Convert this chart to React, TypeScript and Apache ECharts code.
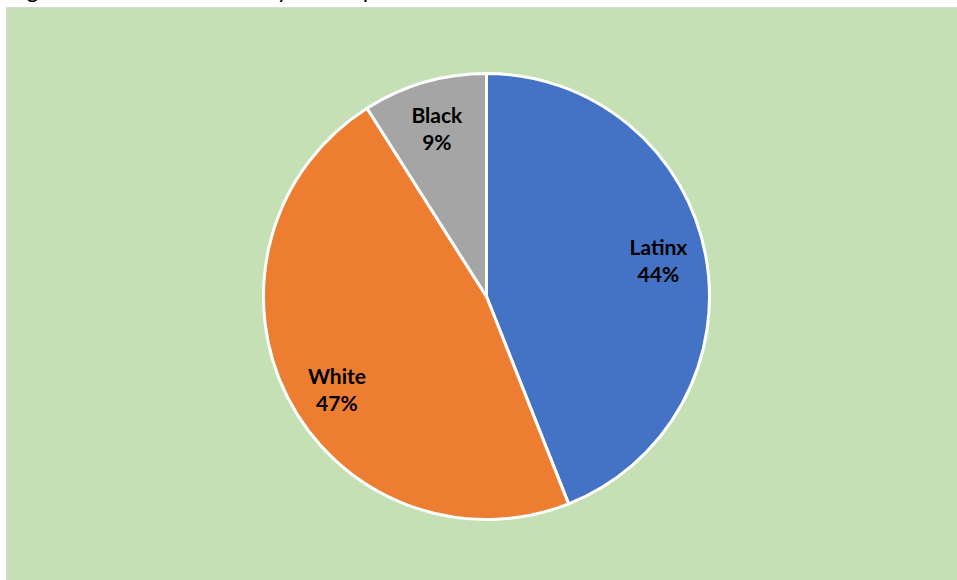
import React, { useEffect, useRef } from "react";
import * as echarts from "echarts";

const categories = ["Latinx", "White", "Black"];
const values = [44, 47, 9];
const colors = ["#4472C4", "#ED7D31", "#A5A5A5"];
const titleText = "Figure 1: Race and Ethnicity of Sample";

export default function App() {
  const ref = useRef<HTMLDivElement>(null);
  useEffect(() => {
    if (!ref.current) return;
    const chart = echarts.init(ref.current, null, { renderer: "svg" });
    const data = categories.map((name, i) => ({
      name,
      value: values[i],
      itemStyle: { color: colors[i] },
    }));
    chart.setOption({
      animation: false,
      backgroundColor: "#ffffff",
      graphic: [
        {
          type: "rect",
          shape: { x: 6.5, y: 7.5, width: 960, height: 600 },
          style: { fill: "#C5E0B4", stroke: "#D9D9D9", lineWidth: 1 },
          z: 0,
        },
        {
          type: "text",
          x: 8,
          y: 0,
          style: {
            text: titleText,
            font: "23px Lato, sans-serif",
            fill: "#000000",
            verticalAlign: "bottom",
          },
          z: 0,
        },
      ],
      series: [
        {
          type: "pie",
          center: [486.5, 296.5],
          radius: [0, 223],
          startAngle: 90,
          clockwise: true,
          silent: true,
          label: { show: false },
          labelLine: { show: false },
          itemStyle: { borderColor: "#ffffff", borderWidth: 3 },
          data,
          z: 2,
        },
        {
          type: "pie",
          center: [486.5, 296.5],
          radius: [128, 222],
          startAngle: 90,
          clockwise: true,
          silent: true,
          itemStyle: { color: "rgba(0,0,0,0)", borderWidth: 0 },
          label: {
            show: true,
            position: "inside",
            formatter: (p: any) => `${p.name}\n${p.value}%`,
            color: "#000000",
            fontFamily: "Lato, sans-serif",
            fontWeight: "bold",
            fontSize: 21,
            lineHeight: 27,
            align: "center",
          },
          labelLayout: (p: any) =>
            p.dataIndex === 1
              ? { dx: 9, dy: 12 }
              : p.dataIndex === 0
              ? { dx: -3, dy: -3 }
              : { dx: 0, dy: 2 },
          labelLine: { show: false },
          data: categories.map((name, i) => ({
            name,
            value: values[i],
            itemStyle: { color: "rgba(0,0,0,0)" },
          })),
          z: 3,
        },
      ],
    });
    return () => chart.dispose();
  }, []);
  return (
    <div
      ref={ref}
      style={{ width: 957, height: 580, position: "fixed", left: 0, top: 0 }}
    />
  );
}
